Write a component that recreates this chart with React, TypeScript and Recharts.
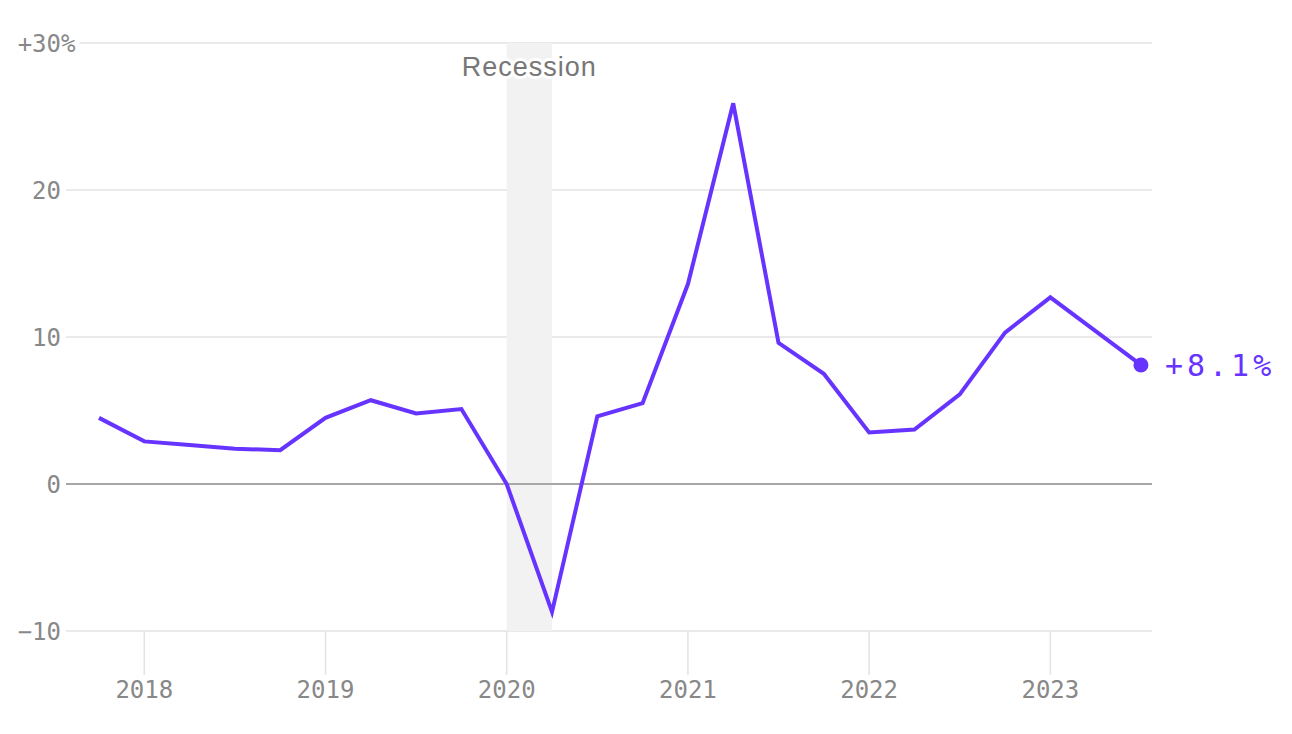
import React from "react";
import {
  LineChart,
  Line,
  XAxis,
  YAxis,
  CartesianGrid,
  ReferenceArea,
  ReferenceLine,
  ReferenceDot,
} from "recharts";

const quarters = [
  2017.75, 2018.0, 2018.25, 2018.5, 2018.75, 2019.0, 2019.25, 2019.5, 2019.75,
  2020.0, 2020.25, 2020.5, 2020.75, 2021.0, 2021.25, 2021.5, 2021.75, 2022.0,
  2022.25, 2022.5, 2022.75, 2023.0, 2023.25, 2023.5,
];
const growth = [
  4.5, 2.9, 2.65, 2.4, 2.3, 4.5, 5.7, 4.8, 5.1, 0.0, -8.7, 4.6, 5.5, 13.6, 25.9,
  9.6, 7.5, 3.5, 3.7, 6.1, 10.3, 12.7, 10.4, 8.1,
];
const yearTicks = [2018, 2019, 2020, 2021, 2022, 2023];
const valueTicks = [-10, 0, 10, 20, 30];
const recession = [2020.0, 2020.25];
const xDomain = [2017.568, 2023.561];

const data = quarters.map((q, i) => ({ q, v: growth[i] }));
const last = data[data.length - 1];

const PURPLE = "#6633ff";
const GRAY_TEXT = "#888888";
const MONO = "'DejaVu Sans Mono', monospace";
const TICK_FS = 24;

const YTick = (props: any) => {
  const { x, y, payload } = props;
  const v = payload.value;
  if (v === 30) {
    const numWidth = 3 * 0.602 * TICK_FS;
    return (
      <text
        x={x - numWidth}
        y={y}
        dy="0.36em"
        textAnchor="start"
        fill={GRAY_TEXT}
        fontSize={TICK_FS}
        fontFamily={MONO}
        stroke="#fff"
        strokeWidth={8}
        style={{ paintOrder: "stroke" }}
      >
        +30%
      </text>
    );
  }
  return (
    <text
      x={x}
      y={y}
      dy="0.36em"
      textAnchor="end"
      fill={GRAY_TEXT}
      fontSize={TICK_FS}
      fontFamily={MONO}
    >
      {String(v).replace("-", "\u2212")}
    </text>
  );
};

const XTick = (props: any) => {
  const { x, y, payload } = props;
  return (
    <text
      x={x}
      y={y}
      dy="0.71em"
      textAnchor="middle"
      fill={GRAY_TEXT}
      fontSize={TICK_FS}
      fontFamily={MONO}
    >
      {payload.value}
    </text>
  );
};

const EndLabel = (props: any) => {
  const { viewBox } = props;
  const cx = viewBox.x + (viewBox.width || 0) / 2;
  const cy = viewBox.y + (viewBox.height || 0) / 2;
  return (
    <text
      x={cx + 24}
      y={cy}
      dy="0.36em"
      fill={PURPLE}
      fontSize={30}
      letterSpacing={4}
      fontFamily={MONO}
    >
      {`+${last.v.toFixed(1)}%`}
    </text>
  );
};

const RecessionLabel = (props: any) => {
  const { viewBox } = props;
  const cx = viewBox.x + viewBox.width / 2;
  return (
    <text
      x={cx}
      y={viewBox.y + 33}
      textAnchor="middle"
      fill="#777"
      fontSize={27}
      letterSpacing={1}
      fontFamily="'Liberation Sans', Arial, sans-serif"
      stroke="#fff"
      strokeWidth={6}
      style={{ paintOrder: "stroke" }}
    >
      Recession
    </text>
  );
};

export default function App() {
  return (
    <div style={{ position: "absolute", left: 0, top: 0, background: "#fff" }}>
      <LineChart
        width={1292}
        height={734}
        data={data}
        margin={{ top: 43, right: 140, bottom: 0, left: 0 }}
      >
        <ReferenceArea
          x1={recession[0]}
          x2={recession[1]}
          y1={-10}
          y2={30}
          fill="#f2f2f2"
          fillOpacity={1}
          stroke="none"
          label={<RecessionLabel />}
        />
        <CartesianGrid vertical={false} stroke="#e3e3e3" strokeWidth={1.5} />
        <ReferenceLine y={0} stroke="#8f8f8f" strokeWidth={1.5} />
        <XAxis
          dataKey="q"
          type="number"
          domain={xDomain}
          ticks={yearTicks}
          allowDataOverflow
          height={103}
          axisLine={false}
          tickLine={{ stroke: "#e3e3e3", strokeWidth: 1.5 }}
          tickSize={44}
          tickMargin={6}
          tick={<XTick />}
        />
        <YAxis
          type="number"
          domain={[-10, 30]}
          ticks={valueTicks}
          width={66}
          axisLine={false}
          tickLine={false}
          tickSize={0}
          tickMargin={5}
          tick={<YTick />}
          interval={0}
        />
        <Line
          type="linear"
          dataKey="v"
          stroke={PURPLE}
          strokeWidth={4}
          dot={false}
          activeDot={false}
          isAnimationActive={false}
        />
        <ReferenceDot
          x={last.q}
          y={last.v}
          r={7.5}
          fill={PURPLE}
          stroke="none"
          ifOverflow="visible"
          label={<EndLabel />}
        />
      </LineChart>
    </div>
  );
}
